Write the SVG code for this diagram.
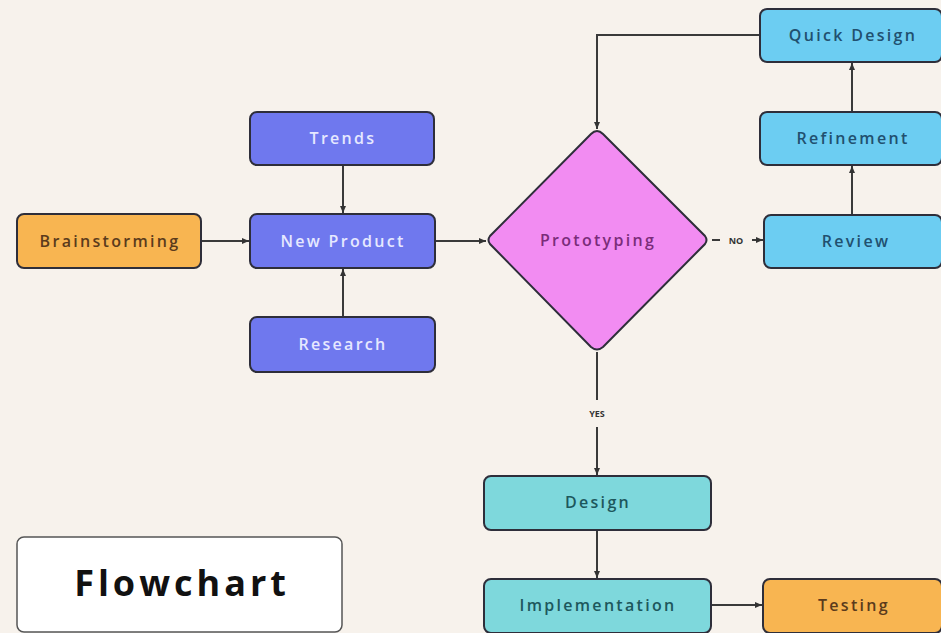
<svg xmlns="http://www.w3.org/2000/svg" width="941" height="633" viewBox="0 0 941 633">
<defs>
<marker id="ah" markerWidth="8" markerHeight="8" refX="7" refY="4" orient="auto" markerUnits="userSpaceOnUse">
<path d="M0,1 L7,4 L0,7 Z" fill="#333"/>
</marker>
<style>
.box{stroke:#2e2e3a;stroke-width:2}
.lbl{font-family:"Open Sans",sans-serif;font-size:16px;letter-spacing:2.3px;text-anchor:middle;dominant-baseline:central;font-weight:600}
.con{fill:none;stroke:#3a3a3a;stroke-width:2;marker-end:url(#ah)}
.tag{font-family:"Open Sans",sans-serif;font-size:9px;font-weight:700;fill:#333;text-anchor:middle;dominant-baseline:central}
</style>
</defs>
<rect width="941" height="633" fill="#f7f2ec"/>
<g id="connectors">
<path class="con" d="M760,35 H597 V129"/>
<path class="con" d="M201,241 H249"/>
<path class="con" d="M343,165 V213"/>
<path class="con" d="M343,317 V269"/>
<path class="con" d="M435,241 H486"/>
<path d="M712,240 H720" fill="none" stroke="#3a3a3a" stroke-width="2"/>
<path class="con" d="M752,240 H763"/>
<text class="tag" x="736" y="240">NO</text>
<path d="M597,352 V400" fill="none" stroke="#3a3a3a" stroke-width="2"/>
<text class="tag" x="597" y="413">YES</text>
<path class="con" d="M597,427 V475"/>
<path class="con" d="M852,214 V166"/>
<path class="con" d="M852,112 V63"/>
<path class="con" d="M597,530 V578"/>
<path class="con" d="M711,605 H762"/>
</g>
<g id="brainstorming">
<rect class="box" x="17" y="214" width="184" height="54" rx="7" fill="#f8b551"/>
<text class="lbl" x="110" y="241" fill="#5b3b1c">Brainstorming</text>
</g>
<g id="trends">
<rect class="box" x="250" y="112" width="184" height="53" rx="7" fill="#6f78ee"/>
<text class="lbl" x="343" y="138" fill="#e6e8ff">Trends</text>
</g>
<g id="new-product">
<rect class="box" x="250" y="214" width="185" height="54" rx="7" fill="#6f78ee"/>
<text class="lbl" x="343" y="241" fill="#e6e8ff">New Product</text>
</g>
<g id="research">
<rect class="box" x="250" y="317" width="185" height="55" rx="7" fill="#6f78ee"/>
<text class="lbl" x="343" y="344" fill="#e6e8ff">Research</text>
</g>
<g id="prototyping">
<path class="box" d="M597,131 Q600,131 603,134 L705,236 Q708,240 705,244 L603,347 Q597,352 591,347 L490,244 Q487,240 490,236 L591,134 Q594,131 597,131 Z" fill="#f28cf2"/>
<text class="lbl" x="598" y="240" fill="#7a2c7a">Prototyping</text>
</g>
<g id="quick-design">
<rect class="box" x="760" y="9" width="182" height="53" rx="7" fill="#6ccdf2"/>
<text class="lbl" x="853" y="35" fill="#21506f">Quick Design</text>
</g>
<g id="refinement">
<rect class="box" x="760" y="112" width="182" height="53" rx="7" fill="#6ccdf2"/>
<text class="lbl" x="853" y="138" fill="#21506f">Refinement</text>
</g>
<g id="review">
<rect class="box" x="764" y="215" width="178" height="53" rx="7" fill="#6ccdf2"/>
<text class="lbl" x="856" y="241" fill="#21506f">Review</text>
</g>
<g id="design">
<rect class="box" x="484" y="476" width="227" height="54" rx="7" fill="#7ed8dc"/>
<text class="lbl" x="598" y="502" fill="#1d575c">Design</text>
</g>
<g id="implementation">
<rect class="box" x="484" y="579" width="227" height="54" rx="7" fill="#7ed8dc"/>
<text class="lbl" x="598" y="605" fill="#1d575c">Implementation</text>
</g>
<g id="testing">
<rect class="box" x="763" y="579" width="179" height="54" rx="7" fill="#f8b551"/>
<text class="lbl" x="854" y="605" fill="#5b3b1c">Testing</text>
</g>
<g id="title">
<rect x="17" y="537" width="325" height="95" rx="7" fill="#ffffff" stroke="#555" stroke-width="1.5"/>
<text x="182" y="582" font-family="'Open Sans',sans-serif" font-size="36" font-weight="700" letter-spacing="4" text-anchor="middle" dominant-baseline="central" fill="#111">Flowchart</text>
</g>
</svg>
